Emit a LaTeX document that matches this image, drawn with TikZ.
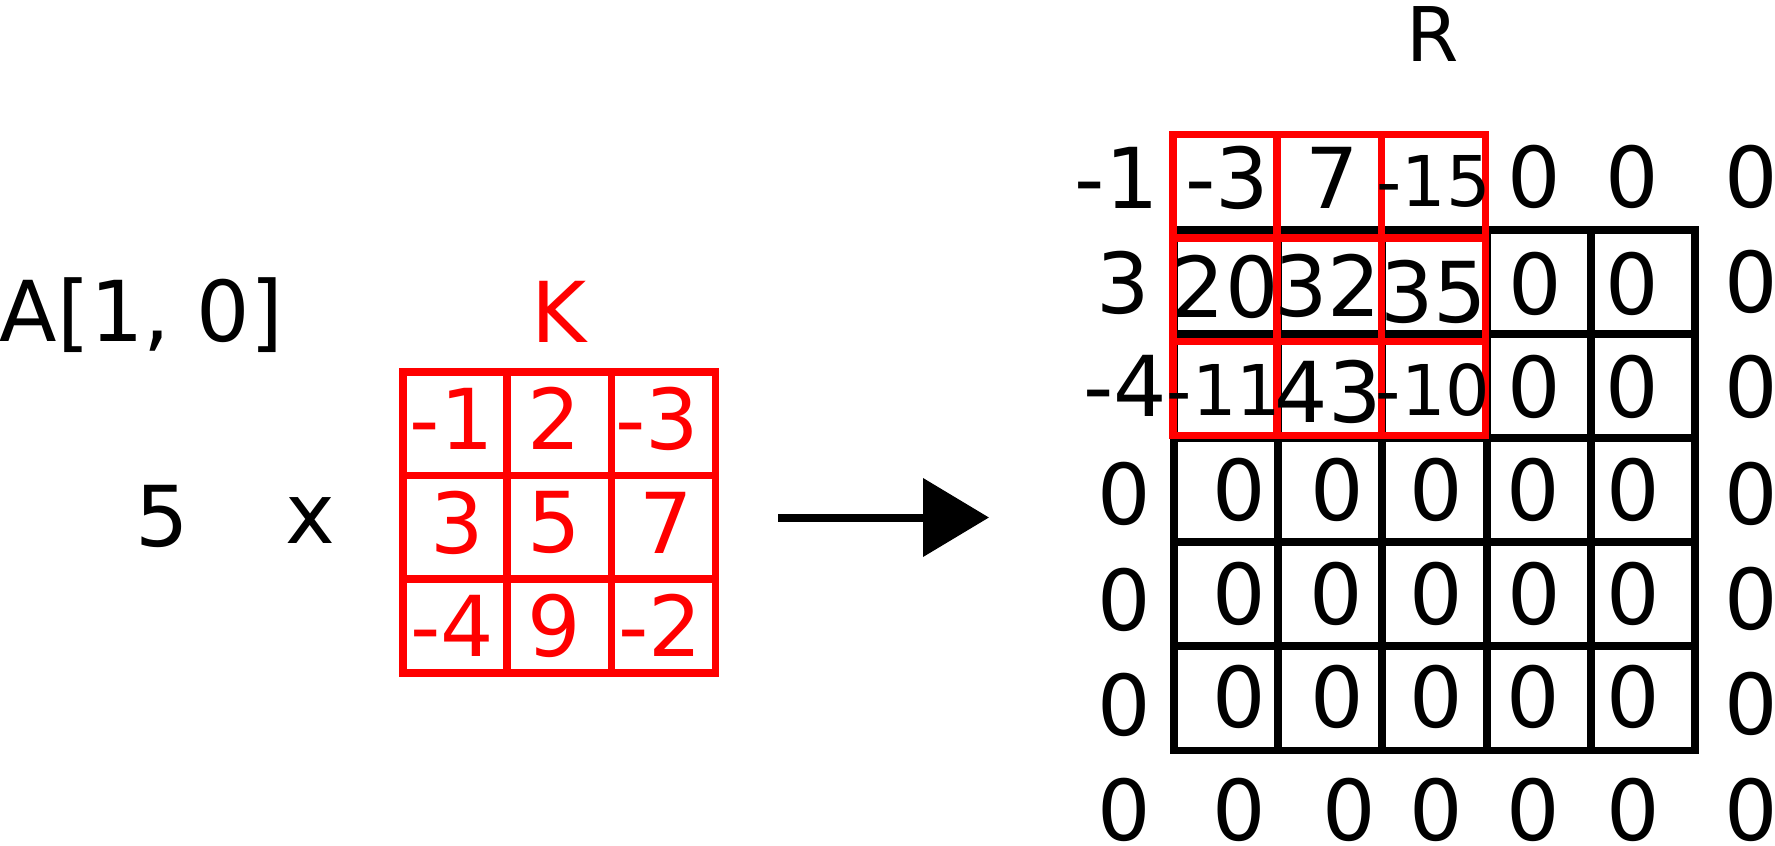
\documentclass[tikz,border=0pt]{standalone}
\usepackage{fontspec}
\setmainfont{DejaVu Sans}
\usetikzlibrary{arrows.meta}
\definecolor{kred}{RGB}{255,0,0}
\begin{document}
\begin{tikzpicture}[x=0.5pt,y=-0.5pt,
  blk/.style={line width=3.7pt,black,line cap=rect},
  rd/.style={line width=3.7pt,kred,line cap=rect},
  big/.style={font=\fontsize{42}{50}\selectfont,inner sep=0pt,anchor=base},
  sml/.style={font=\fontsize{35}{40}\selectfont,inner sep=0pt,anchor=base},
  lbl/.style={font=\fontsize{37.7}{44}\selectfont,inner sep=0pt,anchor=base},
  pics/redgrid/.style={code={
    \foreach \xx in {0,104,208.5,312.5} \draw[rd] (\xx,0) -- (\xx,301);
    \foreach \yy in {0,103.5,207,301} \draw[rd] (0,\yy) -- (312.5,\yy);
  }}]
\useasboundingbox (0,0) rectangle (1775,845);

% black grid of R
\foreach \xx in {1174,1278,1382,1487,1591,1695} \draw[blk] (\xx,230) -- (\xx,750.5);
\foreach \yy in {230,334,438,542,646,750.5} \draw[blk] (1174,\yy) -- (1695,\yy);

% red grids
\pic at (403,372) {redgrid};
\pic at (1173,134.5) {redgrid};

% left labels
\node[big,anchor=base west] (alabel) at (-0.5,341.7) {A[1, 0]};
\node[big] (five) at (162.5,546) {5};
\node[big] (times) at (310,543) {x};
\node[big,text=kred] (klabel) at (559,342.7) {K};
\node[lbl] (rlabel) at (1433,61.7) {R};

% kernel values
\foreach \px/\py/\tx [count=\i] in {451.7/449/-1,554.5/449/2,657.5/449/-3,
   457/553/3,554/552/5,666/553/7,
   452.5/656/-4,554.7/656/9,660/656/-2}
  \node[big,text=kred] (k\i) at (\px,\py) {\tx};

% result values (big)
\foreach \px/\py/\tx [count=\i] in {
   1116.7/208/-1,1227/208/-3,1331.7/208/7,1534/207/0,1632.5/207/0,1751.5/207/0,
   1123.3/313.3/3,1225/317/20,1327.5/316/32,1433.5/322/35,1534.7/314/0,1632.5/314/0,1751.5/312/0,
   1125.5/416.7/-4,1328.3/422/43,1534/417/0,1632.5/417/0,1751.5/417/0,
   1124/524/0,1239/520.7/0,1337.5/520.7/0,1436/520.7/0,1533/520.7/0,1633/520.7/0,1751.5/524/0,
   1124/630.7/0,1239/624/0,1336/624/0,1436/624/0,1534/624/0,1633/624/0,1751.5/629/0,
   1124/735.7/0,1239/727.3/0,1337.5/727.3/0,1436/727.3/0,1533/727.3/0,1633/727.3/0,1751.5/734/0,
   1124/840/0,1239/840/0,1349/840/0,1436/840/0,1533.5/840/0,1633/840/0,1751.5/840/0}
  \node[big] (r\i) at (\px,\py) {\tx};

% result values (small)
\node[sml] (s1) at (1433.5,206.7) {-15};
\node[sml] (s2) at (1224,415) {-11};
\node[sml] (s3) at (1433,415.7) {-10};

% arrow
\coordinate (arrS) at (778,517.5);
\coordinate (arrE) at (989,517.5);
\draw[line width=4pt,-{Triangle[length=33pt,width=38.5pt]}] (arrS) -- (arrE);
\end{tikzpicture}
\end{document}
